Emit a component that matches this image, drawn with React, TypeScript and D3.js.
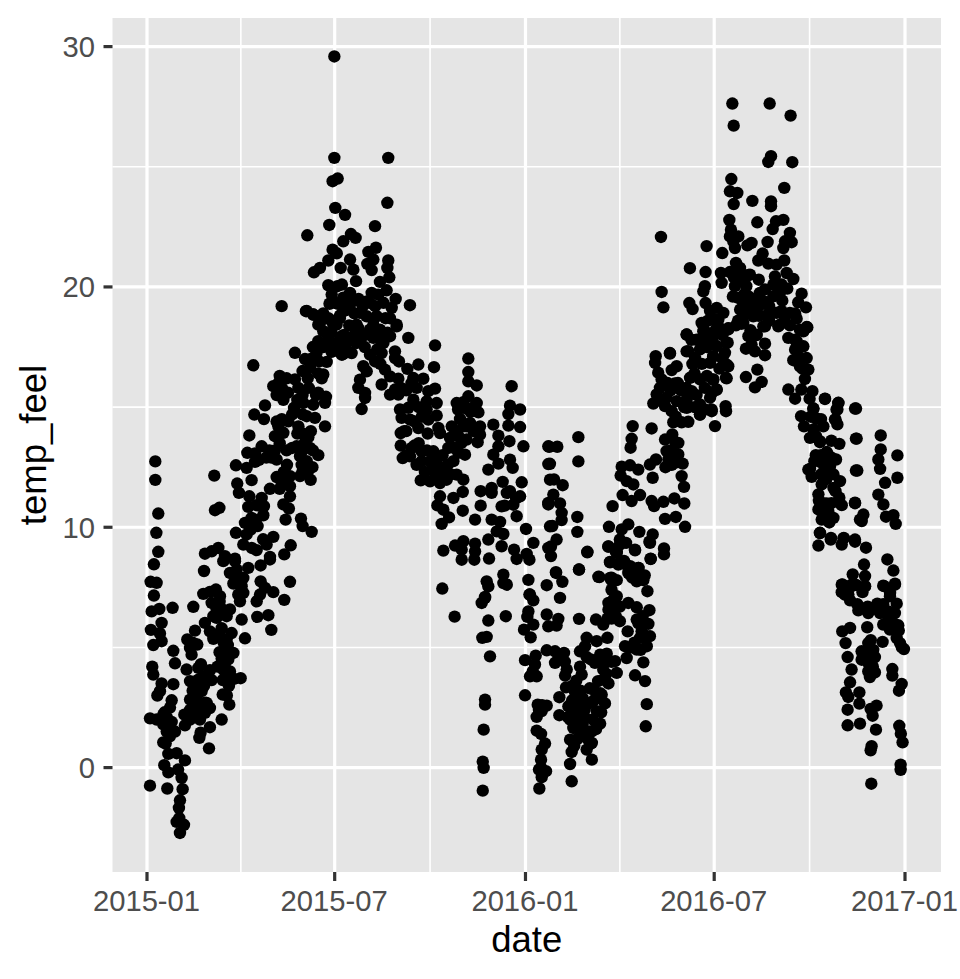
import React from 'react';
import * as d3 from 'd3';

// [days since 2015-01-01, temp_feel]
const winter2015: [number, number][] = [
  [6.7,8.46],[3.5,7.73],[9.3,7.69],[6.7,7.16],[4.5,6.5],[11.9,6.6],[24.7,6.65],[44.7,6.69],[14.1,6.02],[3.8,5.73],[12.5,5.58],[14.1,5.26],[6.1,5.1],
  [25.4,4.86],[27,4.34],[5.1,4.2],[6.1,3.87],[14.1,3.5],[25.4,3.47],[12.5,3.18],[10,3],[23.8,2.8],[22.2,2.5],[15.7,2.2],[2.9,2.05],[9.3,2],[19,2.1],
  [23.8,1.9],[15.7,1.8],[19,1.5],[27,1.5],[15.7,1.05],[20.6,0.57],[28.6,0.6],[36.6,0.3],[16.7,0.1],[20.6,-0.2],[30,-0.08],[33.4,-0.43],[2.9,-0.75],
  [19.6,-0.87],[34.4,-0.9],[31.8,-1.36],[30.8,-1.68],[31.2,-2.1],[28.6,-2.26],[35.7,-2.38],[31.8,-2.72],[38.2,4.08],[49.5,4.15],[60.7,4.05],[41.5,3.6],
  [49.5,3.66],[62.4,3.64],[73,3.64],[83.9,3.69],[90.3,3.72],[73.6,4.08],[80,4],[52.7,3.18],[41.5,2.83],[47.9,2.97],[57.5,2.69],[60.7,2.48],[41.5,2.4],
  [49.5,2.48],[38.2,2.2],[46.3,2.28],[55.9,2.28],[51.1,2],[41.5,2],[36.6,1.76],[73,3.04],[79.4,2.62],[72,2],[60.7,1.68],[51.7,1.45],[50.5,1.24],[59.8,0.8],
  [55,8.18],[73.6,8.59],[84.9,8.59],[80,8.1],[86.5,8.24],[97.7,8.31],[109.6,8.41],[118.6,8.66],[92.9,7.89],[83.3,7.66],[91.3,7.55],[92.9,7.27],[89.7,6.92],
  [109.6,7.75],[113.8,7.48],[121.8,7.3],[137.9,7.73],[132.4,6.98],[105.8,6.92],[109,7.2],[80,6.58],[76.8,6.3],[91.3,6.16],[106.4,6.27],[117,6.34],[119.9,5.73],
  [94.5,5.38],[54.3,7.23],[60.7,7.31],[66.5,7.41],[70.4,7.13],[62.4,6.85],[67.2,6.58],[67.2,6.23],[55.9,6.02],[72,5.8],[46.3,5.7],[60.7,5.67],[38.9,5.33],
  [48.5,5.12],[41.5,4.98],[64,5.36],[81.6,5.6],[76.8,5.33],[75.2,4.98],[83.3,4.77],[72,4.54],[78.4,4.5],
  [44,2.1],[45,2.6],[47,3],[53,2.6],[52,2.2],[56,2.7],[44,3.2],[47,3.4],[55,3.4],[44,5.2],[43,4.7],[70,4.8],[70,5.6],[74,5.2],[78,5.1],[74,4.6],[76,3.9],[79,3.4],
  [68,4.2],[72,6.6],[64,6.3],[70,6.9],[86,7.9],[88,7.2],[17,2.3],[20,1.8],[22,1.3],[18,1],[36,2.2],[52,4.3],[54,3.8],[75,4.3],[77,3],
];

const spring2015: [number, number][] = [
  [129.9,19.2],[154,19],[160.4,18.85],[166.8,18.5],[176.5,18.64],[170,18.16],[186,18.7],[178.7,19.4],[191,19.2],[165.2,17.74],[186,17.81],[189,17.2],[142.7,17.26],
  [152.4,17],[163.6,17.26],[173.3,16.88],[157.2,16.63],[102.5,16.74],[170,16.36],[168.5,16.2],[121.8,15.87],[134.7,16.2],[142.7,16.15],[146,15.8],[126.7,16],[125,15.5],
  [131.5,15.3],[165.2,15.6],[172.6,15.43],[171.7,15.18],[150.8,15.18],[160.4,15.1],[141.8,14.97],[113.8,15.07],[103.5,14.69],[112.8,14.5],[154,14.62],[162,14.55],
  [171.7,14.2],[136.3,14.41],[146,14.2],[126.7,14.2],[98.7,13.82],[123.4,13.79],[131.5,13.93],[155.6,13.75],[110.6,13.37],[96.8,13.1],[104.2,13.07],[123.4,13.2],
  [134.7,13.2],[144.3,13.37],[157.2,13.3],[165.2,13],[147.6,12.96],[85.8,12.58],[96.1,12.47],[104.2,12.72],[125,12.82],[149.2,12.6],[159.5,12.5],[154,12.75],[8,12.74],
  [8,11.97],[64.9,12.15],[100.9,11.96],[87,11.82],[125,12.09],[138,12.13],[147.6,12.13],[157.8,11.97],[129.9,11.85],[137.9,11.71],[118.6,11.6],[88.7,11.43],[98.7,11.29],
  [110.6,11.22],[137.9,11.29],[97.7,10.85],[105.8,10.92],[112.8,10.88],[131.5,10.95],[136.9,10.78],[69.8,10.81],[65.6,10.71],[10.9,10.57],[112.2,10.5],[100.9,10.39],
  [94.5,10.18],[133.7,10.32],[148.5,10.36],[150.1,10.05],[158.8,9.81],[106.7,10.05],[9,9.77],[85.8,9.77],[96.1,9.7],[92.9,9.28],[101,9.14],[105.8,9.05],[121.8,9.6],
  [115.4,9.28],[138.6,9.25],[10.9,8.98],[55.9,8.9],[68.8,9.14],[62.4,9],[75.2,8.8],[84.9,8.69],[118.6,8.77],[132.4,8.87],
  [175,17.8],[180,17.4],[178,18.1],[183,17.6],[166,16.9],[170,17.5],[160,17.5],[158,17],[150,16.5],[163,15.5],[156,15.8],[150,15.5],[145,15.3],[136,15.6],[130,15.8],
  [128,16.3],[140,14.7],[150,14.7],[145,13.9],[150,13.9],[158,14],[130,14.5],[125,14.4],[128,13.5],[140,13.3],[152,13.5],[160,13.2],[150,13.2],[150,12.3],[155,12.3],
  [135,12.6],[132,12.3],[128,11.6],[108,12.8],[115,12.9],[118,13.2],[105,10.3],[108,10.9],[100,9.9],[112,9.5],[135,11.9],[120,12.9],[155,16.2],[165,16.4],[175,18],
];

const summer2015: [number, number][] = [
  [180.7,29.59],[180.7,25.37],[232.7,25.37],[183.9,24.51],[179,24.4],[231.8,23.5],[181.6,23.29],[191,23],[175.8,22.58],[219.9,22.53],[154.6,22.15],[196.7,22.2],[201.2,22.04],
  [189.3,21.9],[220.8,21.63],[213.5,21.46],[179,21.55],[183,21.4],[174.9,21.1],[195.8,21.14],[218.3,21.14],[212.5,20.96],[232.7,21.1],[231.8,20.79],[186.8,20.79],[199,20.72],
  [216.7,20.7],[166.8,20.79],[161,20.61],[233.7,20.4],[201.6,20.24],[224.7,20.21],[174.9,20.07],[183.6,20.03],[231.1,19.86],[178.1,19.68],[179,19.43],[195.8,19.75],[216.7,19.75],
  [223,19.68],[215,19.34],[199,19.41],[189.3,19.55],[239.8,19.5],[253.6,19.24],[236,19.13],[228,19.34],[153.3,18.99],[160.4,18.85],[234.3,18.7],[240.8,18.43],[174.9,18.7],
  [186,18.81],[205.4,18.92],[211.8,18.78],[221.5,18.78],[195.8,19.06],[165.2,18.43],[179.7,18.43],[202.2,18.43],[218.3,18.43],
  [182.9,18.43],[187.8,17.95],[187.8,17.18],[202.2,17.67],[197.4,17.25],[215,17.18],[226.3,17.25],[239.2,17.32],[239.2,17.04],[252,17.88],[203.8,18.29],[215,18.22],[224.7,18.22],
  [240.8,18.36],[234.4,17.95],[218.3,17.88],[228,17.67],[277.8,17.57],[208.6,16.7],[211.9,16.49],[205.4,16.14],[203.8,15.8],[210.3,15.59],[210.3,15.38],[207,14.92],[229.5,16.56],
  [234.4,16.28],[242.4,16.18],[226.3,15.94],[234.4,15.52],[242.4,15.52],[239.2,15.73],[251.1,16.59],[261.7,16.77],[276.8,16.66],[256.9,16.21],[266.5,16.18],[260.1,15.8],
  [277.8,15.77],[271.3,15.66],
  [190,18],[195,18.4],[200,18],[205,17.8],[210,18],[220,18.2],[225,17.8],[232,18.1],[230,18.7],[190,17.5],[210,17.5],[222,17.4],[196,17.8],[208,19.2],[184,19.3],[190,19],
  [200,18.9],[204,19.5],[212,19.4],[220,19.2],[188,20.1],[176,19.3],[170,18.9],[225,16.8],[220,16.9],[243,16.9],[245,15.8],[250,15.7],[255,16],[192,17.6],[178,17.3],[184,17.4],
];

const autumn2015: [number, number][] = [
  [256.9,15.31],[269.7,15.24],[279.4,15.17],[244,14.9],[252,14.97],[269.7,14.9],[279.4,14.65],[245.6,14.55],[253.7,14.48],[261.7,14.13],[271.3,14.48],[281,14.13],[270.7,13.9],
  [244.7,13.92],[282.6,13.92],[244.7,13.4],[246.6,12.88],[255.3,13.3],[253.7,12.95],[264.9,13.16],[276.2,13.16],[264.9,12.75],[273,12.75],[279.4,12.82],[264,11.95],[273,11.91],
  [274.6,12.4],[282.6,11.84],[289,11.98],[287.4,12.4],[295.5,12.75],[300.3,13.1],[306.7,13.02],[290.6,13.3],[292.2,13.72],[300.3,13.79],[293.9,14.2],[301.9,14.51],[298.7,15.17],
  [306.7,14.96],[309.9,15.45],[318,15.17],[319.6,14.78],[309.9,16.46],[309.9,16.07],[318,15.9],[309.9,17.02],[311.5,14.34],[321.2,14.2],[321.2,13.85],[308.3,13.65],[318.9,13.54],
  [298.7,12.19],[305.1,11.98],[304.5,11.47],[295.5,11.22],[282.6,11.29],[280,10.91],[285.8,10.73],[291.3,10.41],[284.2,10.14],[304.5,10.69],[316.4,10.32],[321.8,11.5],[321.8,10.9],
  [334,14.27],[338.9,13.81],[351.7,15.87],[350.1,15.06],[359.8,14.9],[348.5,14.71],[348.5,14.23],[359.8,14.17],[349.5,13.58],[363,13.37],[338.9,13.37],[334,13.02],[329.2,12.4],
  [338.9,12.65],[350.1,12.81],[352.7,12.47],[332.4,11.64],[332.4,11.43],[343,11.89],[361.4,11.87],[347,11.43],[359.8,11.29],[342,10.87],[353.3,10.94],[356.5,10.46],[332.4,10.32],
  [340.5,10.22],[337.3,9.83],[343.7,9.72],[365.5,9.93],[372.6,9.35],[285.8,9.03],[297.1,9.24],[305.1,9.42],[303.5,9.07],[303.5,8.65],[316.4,9.32],[316.4,9],[315.7,8.65],[329.2,9.49],
  [329.9,8.7],[342,9.21],[354,9.07],[356.5,8.68],[366.2,8.89],[368.8,8.65],[284.8,7.45],[327.6,7.75],[329.2,7.54],[343.7,8.03],[343.7,7.68],[347,7.61],[367.8,7.81],[368.8,7.2],
  [385.5,7.59],[326,7.1],[387,13.37],[387,12.63],[388.7,11.98],[387,11.01],[388.7,10.04],[387,9.14],
  [250,14],[258,14.4],[262,15],[265,14.6],[258,13.4],[262,13.5],[270,13.2],[285,13],[290,12.6],[283,12.5],[268,12.3],[278,12.2],[296,13.3],[298,14],[303,13.5],[308,14.2],[315,14],
  [312,14.8],[305,15.2],[315,15],[285,12],[293,12.2],[260,12.6],[250,13],[305,14.2],[300,14.9],[248,14],[345,10.9],[350,11.5],[356,11.2],
];

const winter2016: [number, number][] = [
  [394.5,8.1],[400.6,7.73],[416.7,8.24],[398.3,7.06],[369.4,7.2],[372.6,6.96],[326,7.06],[322.8,6.85],[367.8,6.5],[366.8,6.27],[296.7,6.28],[329.2,6.12],[346,6.3],[385.5,6.37],
  [396.7,6.19],[387,5.88],[395,5.91],[416.7,6.19],[372.6,5.95],[363.6,5.74],[370,5.42],[323.4,5.4],[327.6,5.44],[330.8,4.63],[364.6,4.47],[374.9,4.66],[374.2,4.29],[369.4,3.8],
  [375.8,3.8],[385.5,4.88],[393.5,4.84],[402.2,4.77],[393.5,4.36],[404.8,4.08],[403.2,3.83],[417.6,4.84],[424,5.4],[433.7,5.26],[444,5.4],[422.5,5.05],[417.6,4.2],[432,4.36],[437,4.7],
  [443.4,4.74],[451.4,4.43],[461,5.05],[462.6,4.56],[472.3,4.91],[482,5.05],[478.7,4.38],[470.7,3.84],[480.3,3.6],[453,3.94],[440,4.08],[440,3.66],[419.2,3.87],[414,3.62],[404.1,3.34],
  [412.8,3.15],[364.6,3.01],[397.7,2.93],[430.5,3.25],[438.5,3.04],[441.7,2.67],[376.8,2.62],[385.5,2.58],[380.7,2.35],[375.8,2.11],[406.4,2.55],[417.6,2.28],[427.3,2.69],[433.7,2.35],
  [397.7,2.18],[408,2],[422.5,2.07],[437,1.83],[411.2,1.65],[429,1.51],[482,2.64],[481,1.72],[326,2.83],[326,2.62],[324.7,1.58],[375.8,1.54],[408,1.16],[420.8,1.3],[429,1.03],[424,0.75],
  [429,0.33],[383.9,1],[380.7,0.75],[380,0.33],[409.6,0.65],[408,0.15],[323.8,0.25],[324.7,-0.01],[323.8,-0.96],[378,-0.08],[384.8,-0.15],[380.7,-0.4],[409.6,-0.57],[378.4,-0.87],
  [436.3,7.93],[446.6,7.89],[453,7.8],[448,7.4],[453,7.13],[445,6.85],[445,6.57],[456,6.7],[464.2,6.85],[472.3,6.67],[449.8,6.37],[484.5,6.55],[472.3,6.16],[456,6.09],[433,6.16],[440,5.95],
  [463.6,5.67],[483.5,5.98],[477,5.67],[485,5.47],[475.5,5.4],[464.2,8.1],[474,8.31],[466,8.38],[478.7,7.8],[472.3,7.75],[482.6,7.34],[445,9.2],[456,9.28],[453,8.93],[446.6,8.54],[454.6,8.49],
  [470.7,9.04],[485.8,8.68],[485.1,9.35],[424.7,8.96],
  [410,2.8],[415,2.6],[423,2.6],[412,2.2],[413,1.9],[420,1.8],[425,1.5],[430,2],[433,1.6],[415,1.2],[412,0.9],[425,1.2],[420,2.9],[427,3.3],[435,3.6],[437,3.1],[434,2.9],[443,3.9],[445,3.5],
  [448,4.4],[440,4.4],[428,4.5],[424,4.6],[410,3.4],[403,4.4],[398,4.5],[380,0],[381,-0.2],[380,1.4],[378,2.4],[372,4],[381,2.6],[450,7],[450,6.6],[448,6.2],[444,6.2],[452,6.3],[448,7.8],
  [474,6],[478,6.3],[480,5.5],[470,5.2],[466,5],[476,4.9],[480,8],[474,7.9],[468,7.9],[460,8.6],[452,9],[418,1.5],[422,2.4],[428,1],[406,2.1],[418,3.2],[438,2.3],[431,2.8],
];

const spring2016: [number, number][] = [
  [416,13.75],[416,12.74],[388,13.35],[395.7,13.35],[388.6,12.64],[392.5,11.99],[400.9,11.75],[391.9,11.36],[387,10.95],[398.3,10.99],[399.9,10.6],[399.9,10.3],[390.9,10.05],[415,10.43],
  [415,9.81],[395,9.49],[389.6,9.2],[389.6,8.8],[424.7,8.98],[416.6,8.24],[394.4,8.13],[449,10.88],[445.5,10.02],[468.4,14.21],[486.7,14.11],[467.4,13.68],[466.4,13.31],[457.8,12.52],
  [465.8,12.58],[473.8,12.4],[456.8,12.15],[462.6,11.92],[469,11.78],[487.7,12.06],[485,12.61],[490.9,12.82],[458.7,11.34],[467.4,11.09],[475.5,11.34],[486.7,11.09],[489,10.88],[498,11.06],
  [508.6,11.2],[518.2,10.99],[499.6,10.35],[510,10.43],[518.9,10.02],[515.6,12.13],[517.9,11.68],[516.6,12.65],[499.6,13.65],[506.6,13.86],[512.4,13.51],[501,13.17],[502.8,12.82],[512.4,13.03],
  [509,12.68],[464.2,10.12],[457.8,9.91],[474.8,9.81],[456,9.49],[487.7,9.7],[484.5,9.4],[462,9.35],[444.9,9.2],[470.6,9.07],[498.6,9.12],[498.6,8.87],[453,9],[485.7,8.69],[446.5,8.56],
  [454.6,8.45],[464.2,8.31],[473.8,8.31],[435.3,7.94],[448,7.9],[478.7,7.97],[465.8,8.04],[490.6,17.12],[504.4,17.23],[490,16.84],[493,16.43],[510.8,16.7],[506,16.54],[496.3,16.15],[509,15.98],
  [494.7,15.8],[491.5,15.53],[488.3,15.15],[501.2,15.39],[510.8,15.25],[499.6,15.04],[506,14.83],[507.6,14.37],[515.6,14.37],[522,14.39],[520.5,18.02],[522,17.33],[528.5,17.05],[533.3,17.4],
  [523.7,16.22],[533.3,16.15],[525.3,15.66],[520.5,15.32],[520.5,14.97],[533.3,15.11],[533.3,14.69],[544.6,14.83],[543,15.39],[549.4,15.73],[546.2,16.15],[547.8,14.21],[558,15.04],[558.4,14.83],
  [558.4,16.22],[560.6,16.7],[557.4,17.26],[546,17.12],[543,16.84],[560,17.68],[560.6,18.23],[549.4,17.54],[536.5,17.81],[536.5,18.16],[549.4,18.09],[504.3,17.25],[520.4,17.32],[546,17.1],
  [546,16.14],[549.4,15.73],[544.5,14.9],[533.3,14.69],
  [530,17.8],[540,17.5],[525,17.8],[535,16.8],[528,16.4],[540,16.3],[552,16.6],[538,15.8],[545,15.6],[530,15.5],[520,15.8],[515,15.7],[505,15.7],[512,16],[555,17],[545,17.8],[528,15],[538,14.9],
  [498,15.2],[510,14.6],[505,13.2],[506,12.6],[510,13.5],[500,12.5],[526,16.8],[518,15],[502,16],
];

const summer2016: [number, number][] = [
  [564.5,27.63],[600.5,27.63],[620.7,27.13],[565.8,26.71],[601.8,25.44],[599.2,25.2],[622.3,25.19],[563.5,24.49],[614.6,24.12],[562.2,23.98],[569.3,23.91],[583.8,23.58],[565.8,23.45],[601.8,23.56],
  [601.8,23.36],[561.6,22.79],[588.6,22.69],[613.7,22.79],[606.6,22.73],[603.4,22.41],[563.2,22.38],[562.2,22.1],[570.3,22.1],[565.4,21.9],[567,21.62],[620,22.25],[621.7,21.86],[615.3,21.9],
  [613.7,21.62],[598.5,21.87],[583,21.83],[579,21.73],[539.7,21.7],[554.8,21.41],[495.7,22.08],[593.7,21.39],[589.5,21.1],[599.2,20.97],[607.2,20.93],[614.6,21.1],[523.6,20.78],[538.7,20.62],
  [571.9,20.79],[553.5,20.58],[562.2,20.62],[581.5,20.51],[605.6,20.44],[616.9,20.58],[623.3,20.33],[554.2,20.17],[571.9,20.3],[538,20.03],[536.5,19.82],[567,20.03],[578,20.03],[604,20.1],
  [617.5,19.93],[496.3,19.79],[498,19.15],[523,19.33],[526.2,19.08],[538.7,19.33],[570.3,19.54],[580,19.61],[591,19.75],[604,19.61],[631.3,19.72],[612.7,19.43],[628,19.36],[635.5,19.15],[572,19.06],
  [583,19.2],[549.4,19.13],[543,19],[555.8,18.92],[584.7,18.78],[607.2,18.92],[620,18.92],[626.5,18.68],[597.6,18.82],[534.9,18.5],[551,18.64],[560.6,18.28],[573.5,18.47],[596,18.36],[608.8,18.36],
  [636.8,18.32],[629.7,18.22],[520.4,18.02],[547.7,18.15],[536.5,18.43],[549.4,18.29],[560.6,18.27],[575,18.5],[594.4,18.36],[610.4,18.43],[636.2,18.33],[580,17.95],[596,17.64],[577.6,17.43],
  [586.3,17.32],[596,17.16],[559,17.67],[559,16.77],[559,16.2],[618.5,17.88],[626.5,17.74],[633,18.15],[633,17.53],[625,17.39],[623.3,16.95],[636.2,17.04],[629.7,16.7],[637.8,16.56],[634.5,16.17],
  [588.6,16.56],[577.6,16.25],[592.8,16.05],[586.3,15.82],
  [575,19.4],[580,19],[585,19.5],[590,19.2],[595,19.4],[600,19.2],[576,20.2],[572,20.6],[580,20.5],[576,19.7],[568,21],[566,20.4],[590,18.8],[600,18.6],[612,19],[615,18.6],[620,18.4],[625,18.9],
  [575,18.8],[570,18.6],[582,18.2],[588,18],[583,17.6],[568,18.4],[555,18],[552,18.3],[541,18.6],[545,18.7],[540,18.1],[608,20],[612,20.1],[610,19.7],[625,17.8],[630,17.5],[628,17.1],[602,18.9],
  [632,16.6],[565,19.6],[590,20.3],[596,19.9],
];

const autumn2016: [number, number][] = [
  [618.5,15.73],[625,15.35],[641.7,15.66],[653.9,15.35],[666.8,15.18],[665.8,14.9],[683.8,14.94],[642.7,14.94],[630.8,14.62],[645.9,14.51],[663.5,14.49],[665.8,14.28],[633.6,14.2],[652.3,14.2],
  [642.7,14.07],[639.4,13.72],[649,13.58],[667.7,13.47],[684.4,13.69],[707.6,13.82],[707.6,13.24],[723.7,12.99],[705.3,12.82],[655.5,13.13],[643.6,12.75],[664.5,12.82],[707,12.43],[685,12.36],
  [639.4,12.43],[641,12.1],[658.7,12.54],[652.3,12.27],[723.7,12.06],[711.8,11.85],[668.4,11.92],[650.7,11.78],[662,11.64],[647.5,11.37],[705.3,11.36],[710.2,10.95],[667.7,11.23],[670,10.92],
  [682.8,11.02],[655.5,10.99],[647.5,10.74],[657,10.67],[690.9,10.53],[689.3,10.26],[662,10.39],[650.7,10.32],[712.7,10.44],[719.8,10.5],[722,10.14],[649,9.77],[647.5,9.24],[659.4,9.49],
  [671.6,9.53],[670,9.28],[682.8,9.4],[693.4,9.15],[691.5,8.45],[714,8.66],[719.8,8.2],[680.6,8.04],[692.5,7.97],[670.6,7.62],[679.6,7.55],[692.5,7.55],[721.4,7.65],[710.8,7.55],[716.6,7.27],[676.4,7.2],
  [670,7.61],[679.5,7.61],[692.4,7.54],[673,7.2],[678,6.96],[710,7.57],[721.3,7.61],[716.5,7.13],[723,6.82],[686,6.54],[695.6,6.43],[704.3,6.82],[706.9,6.43],[714.9,6.5],[721.3,6.43],[724.5,5.92],
  [710,5.95],[716.5,5.74],[694.6,5.84],[678,5.81],[670.5,5.67],[673.7,5.18],[695.6,5.18],[709.4,5.23],[723,5.39],[726.2,5.18],[730,4.93],[689.2,4.84],[700.4,4.9],[675.7,4.6],[689.2,4.49],[702,4.6],
  [695.6,4.35],[679.5,4.08],[695.6,4],[702,3.96],[697.2,3.77],[718.8,4.1],[718.8,3.83],[727.8,3.48],[725.2,3.2],[678,3.55],[674,3.13],[676.3,2.94],[687,3.13],[687,2.66],[675.7,2.41],[703.6,2.58],
  [697.9,2.44],[699.8,2.16],[675.7,1.76],[687.6,1.83],[703,1.58],[725.5,1.74],[727,1.41],[728.7,1.05],[698.8,0.89],[697.9,0.72],[726.8,0.12],[726.8,-0.09],[698.5,-0.67],
  [631,15.73],[639,15.35],[653.8,15.34],[666.7,15.17],[665,14.9],[642.6,14.94],[664,14.48],[682.8,14.94],[644.8,14.55],[683.7,13.69],[649,13.54],[655.5,13.09],[637.8,12.4],[683.7,12.36],[682.8,11],
  [649,9.76],[659.6,9.56],[672,9.56],[682.8,9.49],[687.6,10.32],
  [640,14.6],[645,13.8],[650,13],[655,12],[660,12.9],[645,13],[650,12.2],[650,12.7],[660,13.6],[650,14.5],[655,12.7],[653,12],[662,12.2],[657,12.9],[648,11.1],[652,11],[660,11],[652,10.6],[658,10.2],
  [664,11.5],[695,4.8],[697,4.6],[692,4.7],[700,4.2],[698,5.3],[695,6.7],[700,6.6],[710,6.8],[715,6.2],[720,6],[725,5.7],[728,5],[685,6.8],[670,7.3],[673,7.4],[677,7.5],[684,7.6],[690,7.3],
];

const xMajorTicks = ['2015-01-01', '2015-07-01', '2016-01-01', '2016-07-01', '2017-01-01'];
const xTickLabels = ['2015-01', '2015-07', '2016-01', '2016-07', '2017-01'];
const yMajorTicks = [0, 10, 20, 30];
const yMinorTicks = [5, 15, 25];

const points = [
  ...winter2015, ...spring2015, ...summer2015, ...autumn2015,
  ...winter2016, ...spring2016, ...summer2016, ...autumn2016,
];

const startDate = new Date(Date.UTC(2015, 0, 1));
const parseDay = d3.utcParse('%Y-%m-%d');

const App: React.FC = () => {
  const width = 960;
  const height = 979;
  const panel = { left: 112.5, right: 941, top: 18, bottom: 872 };

  const x = d3.scaleUtc()
    .domain([startDate, new Date(Date.UTC(2017, 0, 1))])
    .range([147, 905]);
  const y = d3.scaleLinear().domain([0, 30]).range([767.6, 46.6]);

  const xMajor = xMajorTicks.map(d => x(parseDay(d) as Date));
  const xMinor = d3.pairs(xMajor).map(([a, b]) => (a + b) / 2);

  const font = '"Liberation Sans", Arial, Helvetica, sans-serif';

  return (
    <svg width={width} height={height} style={{ position: 'absolute', left: 0, top: 0, background: '#fff' }} fontFamily={font}>
      <rect x={panel.left} y={panel.top} width={panel.right - panel.left} height={panel.bottom - panel.top} fill="#E5E5E5" />

      {xMinor.map((px, i) => (
        <line key={`xm${i}`} x1={px} x2={px} y1={panel.top} y2={panel.bottom} stroke="#fff" strokeWidth={1.6} />
      ))}
      {yMinorTicks.map(t => (
        <line key={`ym${t}`} x1={panel.left} x2={panel.right} y1={y(t)} y2={y(t)} stroke="#fff" strokeWidth={1.6} />
      ))}
      {xMajor.map((px, i) => (
        <line key={`xg${i}`} x1={px} x2={px} y1={panel.top} y2={panel.bottom} stroke="#fff" strokeWidth={3.2} />
      ))}
      {yMajorTicks.map(t => (
        <line key={`yg${t}`} x1={panel.left} x2={panel.right} y1={y(t)} y2={y(t)} stroke="#fff" strokeWidth={3.2} />
      ))}

      {points.map(([day, temp], i) => (
        <circle key={i} cx={x(d3.utcHour.offset(startDate, day * 24))} cy={y(temp)} r={6.2} fill="#000" />
      ))}

      {xMajor.map((px, i) => (
        <g key={`xt${i}`}>
          <line x1={px} x2={px} y1={panel.bottom} y2={panel.bottom + 9} stroke="#333" strokeWidth={3.2} />
          <text x={px - 0.5} y={911} textAnchor="middle" fontSize={29.2} fill="#4D4D4D">{xTickLabels[i]}</text>
        </g>
      ))}
      {yMajorTicks.map(t => (
        <g key={`yt${t}`}>
          <line x1={panel.left - 9} x2={panel.left} y1={y(t)} y2={y(t)} stroke="#333" strokeWidth={3.2} />
          <text x={panel.left - 17.5} y={y(t) + 10.5} textAnchor="end" fontSize={29.2} fill="#4D4D4D">{t}</text>
        </g>
      ))}

      <text x={(panel.left + panel.right) / 2} y={952} textAnchor="middle" fontSize={36.5} fill="#000">date</text>
      <text transform={`translate(45.5,${(panel.top + panel.bottom) / 2}) rotate(-90)`} textAnchor="middle" fontSize={36.5} fill="#000">temp_feel</text>
    </svg>
  );
};

export default App;
